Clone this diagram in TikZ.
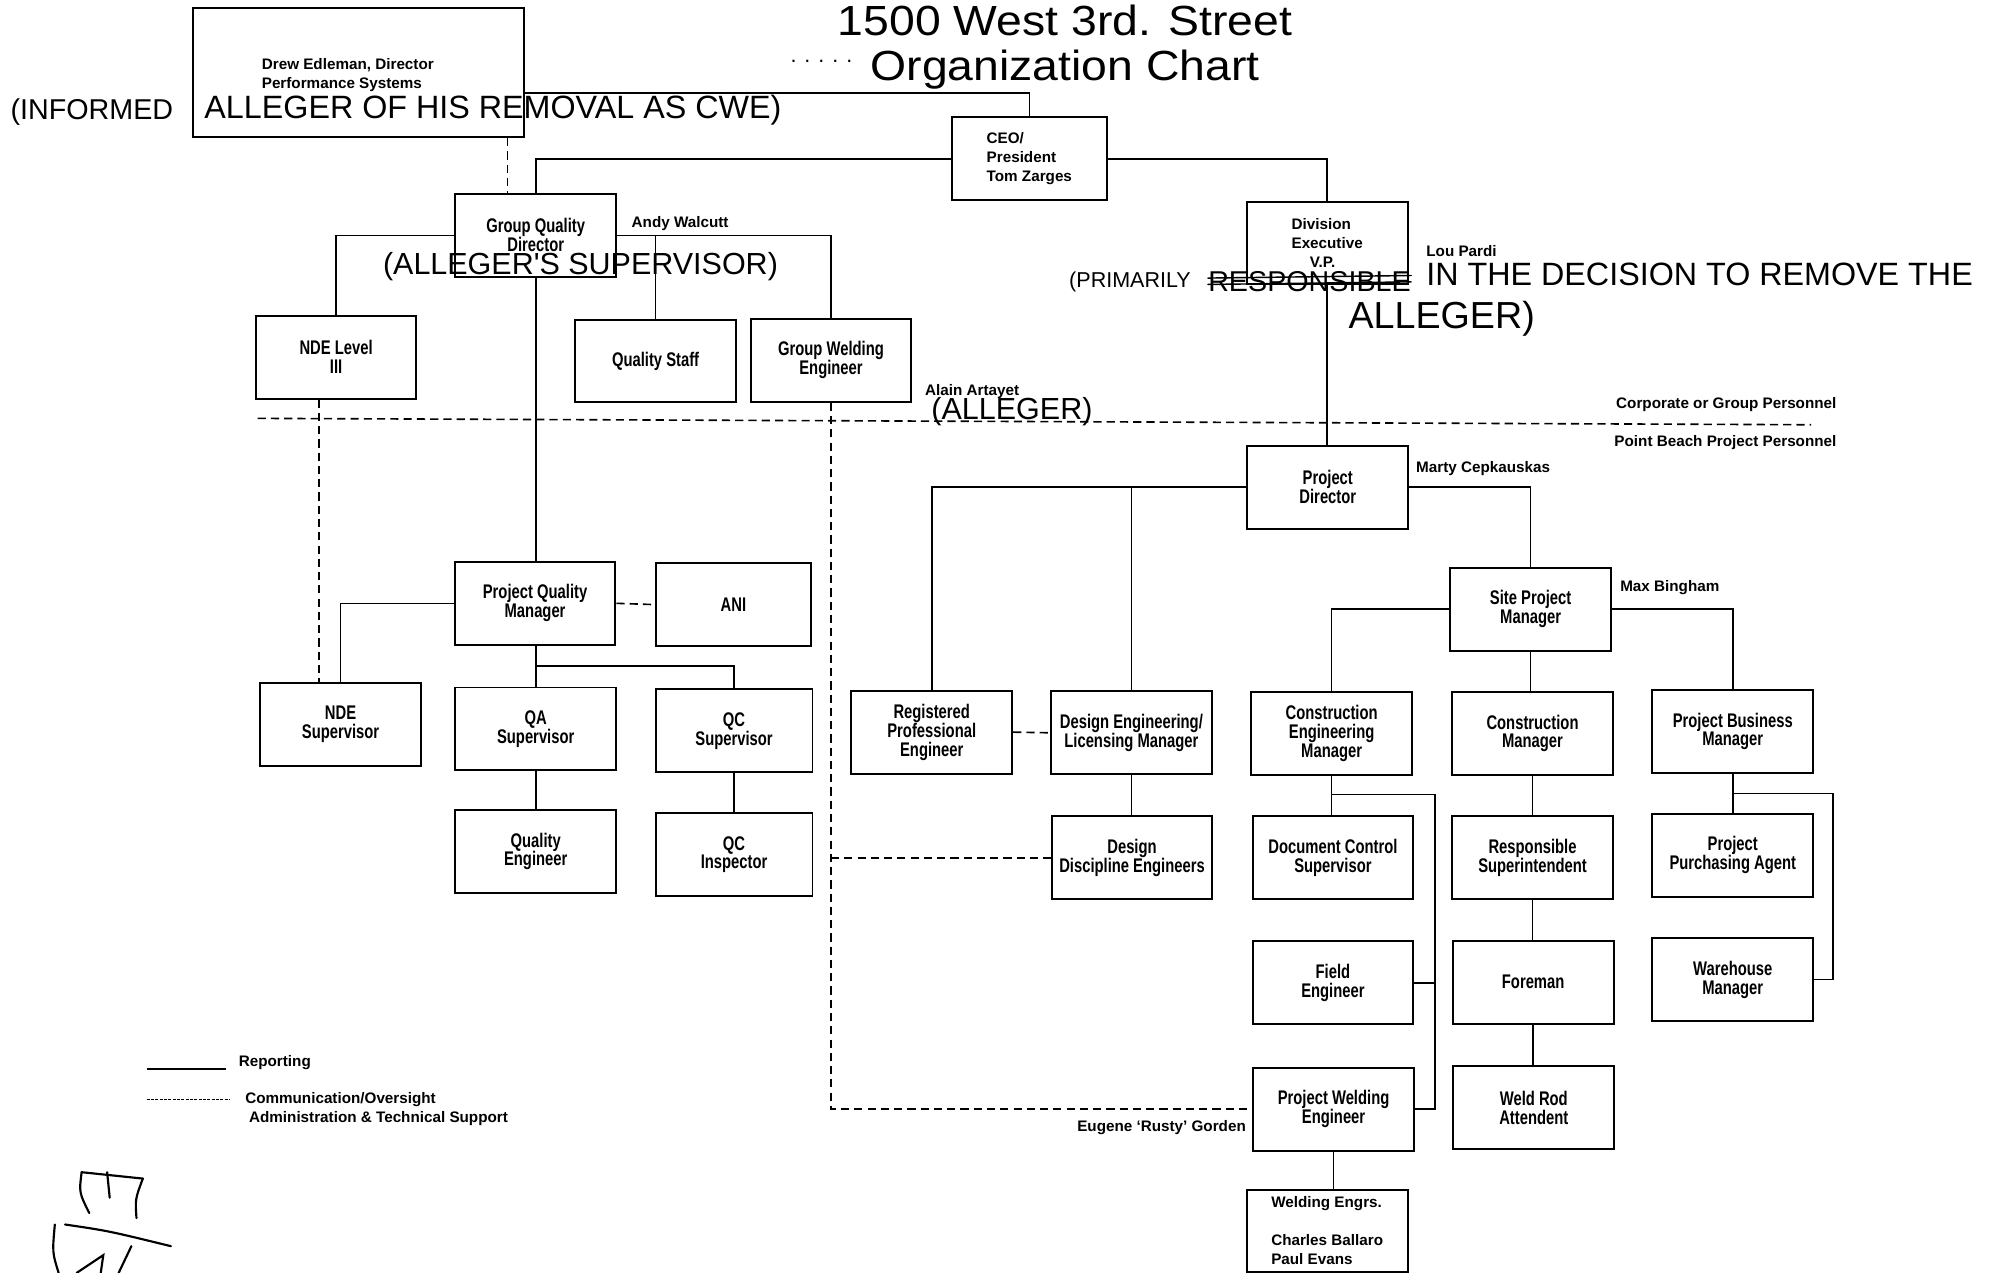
\documentclass[tikz,border=0pt]{standalone}
\usepackage{fontspec}
\setmainfont{Liberation Sans}
\newfontfamily\boxfont[FakeStretch=0.75]{Liberation Sans}
\newfontfamily\titlefont[FakeStretch=1.1]{Liberation Sans}
\newfontfamily\handfont{Liberation Sans}
\usetikzlibrary{calc}

\begin{document}
\begin{tikzpicture}[x=0.25mm, y=-0.25mm,
  post/.style={draw, line width=1.1pt, minimum width=31.5mm, minimum height=16.25mm,
    inner sep=1pt, align=center, font=\boxfont\bfseries\fontsize{11}{10.5}\selectfont},
  plainpost/.style={post, align=left, font=\bfseries\fontsize{8.5}{10.6}\selectfont},
  report/.style={line width=0.9pt},
  comm/.style={line width=0.9pt, dash pattern=on 1.6mm off 1mm},
  who/.style={inner sep=0pt, font=\bfseries\fontsize{8.5}{10.6}\selectfont},
  scrawl/.style={inner sep=0pt, anchor=west, font=\handfont\fontsize{#1}{#1}\selectfont},
  scrawl/.default=17,
  ink/.style={line width=1.2pt, line cap=round}]

% The page is fixed to the size of the scanned sheet
\useasboundingbox (0,0) rectangle (1568,998);

% Title
\node[anchor=base, font=\titlefont\fontsize{23.5}{28}\selectfont] (title top) at (835,28) {1500 West 3rd. Street};
\node[anchor=base, font=\titlefont\fontsize{23.5}{28}\selectfont] (title bottom) at (835,63) {Organization Chart};
\node[font=\fontsize{12}{12}\selectfont] (title dots) at (644,48) {. . . . .};

% Corporate or group boxes
\node[post, minimum width=65mm, minimum height=25.25mm] (drew) at (281,57) {};
\node[who, align=left, anchor=west] (drew name) at (205,59) {Drew Edleman, Director\\Performance Systems};
\node[plainpost, minimum width=30.5mm] (ceo) at (807,124.5) {CEO/\\President\\Tom Zarges};
\node[plainpost] (div exec) at (1040.5,190.5) {Division\\Executive\\\hspace{1.2em}V.P.};
\node[post] (gqd) at (420,184.5) {Group Quality\\Director};
\node[post] (nde three) at (263.5,280) {NDE Level\\III};
\node[post] (quality staff) at (514,283) {Quality Staff};
\node[post] (gwe) at (651.5,282.5) {Group Welding\\Engineer};

% Project boxes, quality side
\node[post] (pqm) at (419.5,473) {Project Quality\\Manager};
\node[post, minimum width=30.5mm] (ani) at (575,474) {ANI};
\node[post] (nde sup) at (267,568) {NDE\\Supervisor};
\node[post] (qa sup) at (420,571.5) {QA\\Supervisor};
\node[post, minimum width=30.75mm] (qc sup) at (575.5,573) {QC\\Supervisor};
\node[post] (quality eng) at (420,667.5) {Quality\\Engineer};
\node[post, minimum width=30.75mm] (qc insp) at (575.5,670) {QC\\Inspector};

% Project boxes, site side
\node[post] (pd) at (1041,382) {Project\\Director};
\node[post] (rpe) at (730.5,574) {Registered\\Professional\\Engineer};
\node[post] (dlm) at (887,574.5) {Design Engineering/\\Licensing Manager};
\node[post] (dde) at (887.5,672.5) {Design\\Discipline Engineers};
\node[post] (spm) at (1200,477.5) {Site Project\\Manager};
\node[post] (cem) at (1044,575) {Construction\\Engineering\\Manager};
\node[post] (cm) at (1201.5,575) {Construction\\Manager};
\node[post] (pbm) at (1358.5,573.5) {Project Business\\Manager};
\node[post] (dcs) at (1045,672.5) {Document Control\\Supervisor};
\node[post] (field eng) at (1045,770.5) {Field\\Engineer};
\node[post] (pwe) at (1045.5,869.5) {Project Welding\\Engineer};
\node[plainpost, minimum height=16mm] (welding engrs) at (1040.5,965) {Welding Engrs.\\[10.5pt]Charles Ballaro\\Paul Evans};
\node[post] (resp super) at (1201.5,672.5) {Responsible\\Superintendent};
\node[post] (foreman) at (1202,770) {Foreman};
\node[post] (weld rod) at (1202.5,868.5) {Weld Rod\\Attendent};
\node[post] (ppa) at (1358.5,670.5) {Project\\Purchasing Agent};
\node[post] (warehouse) at (1358.5,768) {Warehouse\\Manager};

% Names beside the boxes
\node[who, anchor=west] (andy) at (495,175) {Andy Walcutt};
\node[who, anchor=west] (lou) at (1118,197) {Lou Pardi};
\node[who, anchor=west] (alain) at (725,307) {Alain Artayet};
\node[who, anchor=west] (marty) at (1110,367) {Marty Cepkauskas};
\node[who, anchor=west] (max) at (1270,461) {Max Bingham};
\node[who, anchor=east] (eugene) at (977,884) {Eugene `Rusty' Gorden};

% Reporting lines
\coordinate (cem rail) at (1125,623);
\coordinate (pbm rail) at (1437,622);
\draw[report] (drew.east |- 0,73) -| (ceo.north);
\draw[report] (ceo.west) -| (gqd.north);
\draw[report] (ceo.east) -| (div exec.north);
\draw[report] (div exec.south) -- (div exec.south |- pd.north);
\draw[report] (gqd.west) -| (nde three.north);
\draw[report] (gqd.east) -| (gwe.north);
\draw[report] (quality staff.north) -- (quality staff.north |- gqd.east);
\draw[report] (gqd.south) -- (gqd.south |- pqm.north);
\draw[report] (pqm.west) -| (nde sup.north);
\draw[report] (qa sup.north) -- (qa sup.north |- pqm.south);
\draw[report] (qa sup.north |- 0,522) -| (qc sup.north);
\draw[report] (qa sup.south) -- (quality eng.north);
\draw[report] (qc sup.south) -- (qc insp.north);
\draw[report] (pd.west) -| (rpe.north);
\draw[report] (dlm.north) -- (dlm.north |- pd.west);
\draw[report] (pd.east) -| (spm.north);
\draw[report] (dlm.south) -- (dlm.south |- dde.north);
\draw[report] (spm.west) -| (cem.north);
\draw[report] (spm.east) -| (pbm.north);
\draw[report] (spm.south) -- (spm.south |- cm.north);
\draw[report] (cem.south) -- (cem.south |- dcs.north);
\draw[report] (cem.south |- cem rail) -- (cem rail) |- (pwe.east);
\draw[report] (field eng.east) -- (field eng.east -| cem rail);
\draw[report] (pwe.south) -- (pwe.south |- welding engrs.north);
\draw[report] (cm.south) -- (resp super.north);
\draw[report] (resp super.south) -- (resp super.south |- foreman.north);
\draw[report] (foreman.south) -- (foreman.south |- weld rod.north);
\draw[report] (pbm.south) -- (ppa.north);
\draw[report] (pbm.south |- pbm rail) -- (pbm rail) |- (warehouse.east);

% Communication / oversight lines
\draw[comm] (drew.south -| 398,0) -- (gqd.north -| 398,0);
\draw[comm] (nde three.south -| 250,0) -- (nde sup.north -| 250,0);
\draw[comm] (pqm.east) -- (ani.west);
\draw[comm] (rpe.east) -- (dlm.west);
\draw[comm] (gwe.south) |- (pwe.west);
\draw[comm] (gwe.south |- dde.west) -- (dde.west);

% Corporate / project divide
\draw[comm] (202,328) -- (1420,333);
\node[who, anchor=east] (corporate) at (1440,317) {Corporate or Group Personnel};
\node[who, anchor=east] (point beach) at (1440,347) {Point Beach Project Personnel};

% Key
\coordinate (key solid a) at (115,838);
\coordinate (key solid b) at (177,838);
\coordinate (key dash a) at (115,862);
\coordinate (key dash b) at (180,862);
\draw[report] (key solid a) -- (key solid b);
\draw[line width=0.9pt, dash pattern=on 0.6mm off 0.25mm] (key dash a) -- (key dash b);
\node[who, anchor=west] (key report) at (187,833) {Reporting};
\node[who, anchor=west] (key comm) at (192,862) {Communication/Oversight};
\node[who, anchor=west] (key admin) at (195,877) {Administration \& Technical Support};

% Handwritten notes
\node[scrawl=16] (informed) at (8,88) {(INFORMED};
\node[scrawl=18] (removal) at (160,86) {ALLEGER OF HIS REMOVAL AS CWE)};
\node[scrawl=17] (supervisor) at (300,209) {(ALLEGER'S SUPERVISOR)};
\node[scrawl=17] (alleger) at (730,323) {(ALLEGER)};
\node[scrawl=12] (primarily) at (838,221) {(PRIMARILY};
\node[scrawl=16] (responsible) at (947,221) {RESPONSIBLE};
\node[scrawl=18] (decision) at (1118,215) {IN THE DECISION TO REMOVE THE};
\node[scrawl=21] (alleger two) at (1057,250) {ALLEGER)};
\draw[ink, line width=0.8pt] ($(responsible.west)+(0,-3)$) -- ($(responsible.east)+(0,-5)$);
\draw[ink, line width=0.8pt] ($(responsible.west)+(0,2)$) -- ($(responsible.east)+(0,0)$);

% initials, bottom left
\draw[ink] (64,919) -- (112,924);
\draw[ink] (64,919) .. controls (62,935) .. (70,951);
\draw[ink] (112,924) .. controls (106,940) .. (107,955);
\draw[ink] (84,919) -- (86,939);
\draw[ink] (51,960) .. controls (85,965) .. (134,977);
\draw[ink] (43,960) .. controls (41,982) .. (46,998);
\draw[ink] (60,998) -- (81,984) -- (79,998);
\draw[ink] (103,977) -- (93,998);

\end{tikzpicture}
\end{document}
